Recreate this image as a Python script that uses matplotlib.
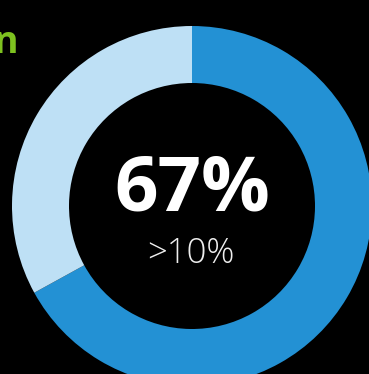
import matplotlib
matplotlib.use('Agg')
import matplotlib.pyplot as plt

# share of respondents
labels = ["above", "rest"]
values = [67, 33]
colors = ["#2391d4", "#bee0f5"]
big_label = "67%"
sub_label = ">10%"
title_tail = "n"

W, H = 369, 374
fig = plt.figure(figsize=(W / 100, H / 100), dpi=100, facecolor="black")
ax = fig.add_axes([0, 0, 1, 1])
ax.set_facecolor("black")

cx, cy, r = 192, H - 206, 180
ax.pie(values, colors=colors, startangle=90, counterclock=False,
       center=(cx, cy), radius=r,
       wedgeprops=dict(width=r - 123, linewidth=0))
ax.set_xlim(0, W)
ax.set_ylim(0, H)
ax.set_aspect("equal")
ax.axis("off")

ax.text(cx, H - 191, big_label, ha="center", va="center", color="white",
        fontsize=55, fontweight="bold", family="Open Sans")
ax.text(cx - 1, H - 254, sub_label, ha="center", va="center", color="#eeeeee",
        fontsize=25, fontweight="light", family="Open Sans")
ax.text(18, H - 53, title_tail, ha="right", va="baseline", color="#7dc11f",
        fontsize=27, fontweight="bold", family="Open Sans")

fig.savefig("out.png", dpi=100, facecolor="black")
